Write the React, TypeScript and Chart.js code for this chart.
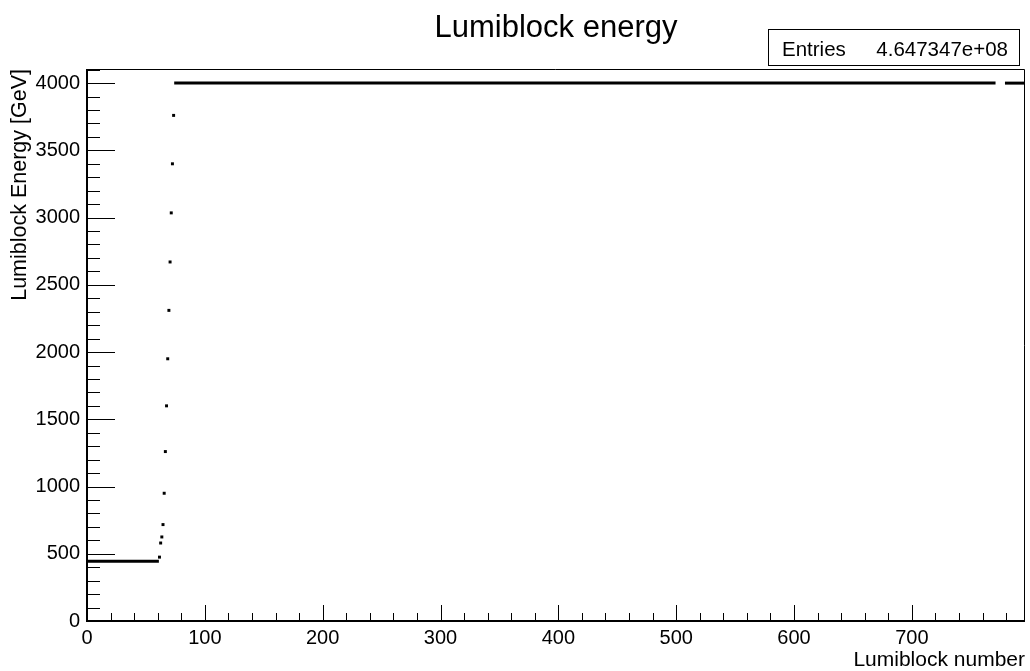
import React, { useEffect, useRef } from "react";
import { Chart, registerables } from "chart.js";

Chart.register(...registerables);

// ---- Text ----
const CHART_TITLE = "Lumiblock energy";
const X_TITLE = "Lumiblock number";
const Y_TITLE = "Lumiblock Energy [GeV]";
const STATS_LABEL = "Entries";
const STATS_VALUE = "4.647347e+08";

// ---- Axis ranges and tick spacing ----
const X_MIN = 0;
const X_MAX = 796;
const Y_MIN = 0;
const Y_MAX = 4105;
const X_MAJOR_STEP = 100;
const X_MINOR_STEP = 20;
const Y_MAJOR_STEP = 500;
const Y_MINOR_STEP = 100;

// ---- Data: flat energy plateaus (lumiblock ranges) ----
const plateauStart = [0, 74, 779];
const plateauEnd = [61, 771, 796];
const plateauEnergy = [445, 4000, 4000];

// ---- Data: individual lumiblocks during the energy ramp ----
const rampLumiblock = [61, 62, 63, 64, 65, 66, 67, 68, 69, 70, 71, 72, 73];
const rampEnergy = [475, 580, 625, 717, 950, 1260, 1600, 1950, 2310, 2670, 3035, 3400, 3760];

// markers sit at the centre of each lumiblock bin
const BIN_CENTER = 0.5;

const FONT = '"Liberation Sans", Arial, Helvetica, sans-serif';
const INK = "#000000";

// labelled (major) tick values between min and max
function majorTicks(min: number, max: number, step: number) {
  const out: { value: number }[] = [];
  const n = Math.floor((max - min) / step);
  for (let k = 0; k <= n; k++) out.push({ value: min + k * step });
  return out;
}

// Frame, inward ticks, title and statistics box in the ROOT style
const rootDecorations = {
  id: "rootDecorations",
  afterDraw(chart: any) {
    const { ctx, chartArea: a, scales } = chart;
    const xs = scales.x;
    const ys = scales.y;
    ctx.save();
    ctx.strokeStyle = INK;

    // frame
    ctx.lineWidth = 1;
    ctx.beginPath();
    ctx.moveTo(a.left, a.top + 0.5);
    ctx.lineTo(a.right - 0.5, a.top + 0.5);
    ctx.lineTo(a.right - 0.5, a.bottom);
    ctx.stroke();

    // axis lines
    ctx.lineWidth = 2;
    ctx.beginPath();
    ctx.moveTo(a.left, a.top);
    ctx.lineTo(a.left, a.bottom);
    ctx.lineTo(a.right, a.bottom);
    ctx.stroke();

    // y ticks (pointing into the frame)
    ctx.lineWidth = 1;
    ctx.beginPath();
    const nY = Math.floor((Y_MAX - Y_MIN) / Y_MINOR_STEP);
    for (let k = 0; k <= nY; k++) {
      const v = Y_MIN + k * Y_MINOR_STEP;
      const py = Math.round(ys.getPixelForValue(v)) + 0.5;
      const len = v % Y_MAJOR_STEP === 0 ? 28 : 13;
      ctx.moveTo(a.left, py);
      ctx.lineTo(a.left + len, py);
    }
    // x ticks
    const nX = Math.floor((X_MAX - X_MIN) / X_MINOR_STEP);
    for (let k = 0; k <= nX; k++) {
      const v = X_MIN + k * X_MINOR_STEP;
      const px = Math.round(xs.getPixelForValue(v)) + 0.5;
      const len = v % X_MAJOR_STEP === 0 ? 16 : 8;
      ctx.moveTo(px, a.bottom);
      ctx.lineTo(px, a.bottom - len);
    }
    ctx.stroke();

    // title, centred over the frame
    ctx.fillStyle = INK;
    ctx.font = `31px ${FONT}`;
    ctx.textAlign = "center";
    ctx.textBaseline = "alphabetic";
    ctx.fillText(CHART_TITLE, (a.left + a.right) / 2, 37);

    // statistics box
    const boxRight = a.right - 5;
    const boxLeft = boxRight - 252;
    const boxTop = 29;
    const boxBottom = a.top - 3;
    ctx.fillStyle = "#ffffff";
    ctx.fillRect(boxLeft, boxTop, boxRight - boxLeft, boxBottom - boxTop);
    ctx.lineWidth = 1;
    ctx.strokeRect(boxLeft + 0.5, boxTop + 0.5, boxRight - boxLeft - 1, boxBottom - boxTop - 1);
    ctx.fillStyle = INK;
    ctx.font = `20.5px ${FONT}`;
    ctx.textAlign = "left";
    ctx.fillText(STATS_LABEL, boxLeft + 14, boxBottom - 10);
    ctx.textAlign = "right";
    ctx.fillText(STATS_VALUE, boxRight - 12, boxBottom - 10);

    ctx.restore();
  },
};

export default function App() {
  const canvasRef = useRef<HTMLCanvasElement | null>(null);

  useEffect(() => {
    const canvas = canvasRef.current;
    if (!canvas) return;

    const plateauSets = plateauStart.map((start, i) => ({
      label: `plateau ${i + 1}`,
      data: [
        { x: start, y: plateauEnergy[i] },
        { x: plateauEnd[i], y: plateauEnergy[i] },
      ],
      showLine: true,
      borderColor: INK,
      borderWidth: 3,
      borderCapStyle: "butt" as const,
      pointRadius: 0,
      fill: false,
    }));

    const rampSet = {
      label: "ramp",
      data: rampLumiblock.map((lb, i) => ({ x: lb + BIN_CENTER, y: rampEnergy[i] })),
      showLine: false,
      pointStyle: "rect" as const,
      pointRadius: 2.1,
      pointBorderWidth: 0,
      pointBackgroundColor: INK,
      pointBorderColor: INK,
    };

    const chart = new Chart(canvas, {
      type: "scatter",
      data: { datasets: [...plateauSets, rampSet] as any },
      options: {
        responsive: false,
        devicePixelRatio: 1,
        animation: false,
        events: [],
        layout: { padding: { top: 69, right: 5, left: 0, bottom: 0 } },
        plugins: {
          legend: { display: false },
          tooltip: { enabled: false },
          title: { display: false },
        },
        scales: {
          x: {
            type: "linear",
            min: X_MIN,
            max: X_MAX,
            afterBuildTicks: (s: any) => {
              s.ticks = majorTicks(X_MIN, X_MAX, X_MAJOR_STEP);
            },
            afterFit: (s: any) => {
              s.height = 50;
            },
            grid: { display: false, drawTicks: false },
            border: { display: false },
            ticks: {
              autoSkip: false,
              maxRotation: 0,
              color: INK,
              padding: 5,
              font: { family: FONT, size: 20, lineHeight: 1.2 },
              callback: (v: any) => String(v),
            },
            title: {
              display: true,
              text: X_TITLE,
              align: "end",
              color: INK,
              padding: { top: 0, bottom: 0 },
              font: { family: FONT, size: 21, lineHeight: 1 },
            },
          },
          y: {
            type: "linear",
            min: Y_MIN,
            max: Y_MAX,
            afterBuildTicks: (s: any) => {
              s.ticks = majorTicks(Y_MIN, Y_MAX, Y_MAJOR_STEP);
            },
            afterFit: (s: any) => {
              s.width = 87;
            },
            grid: { display: false, drawTicks: false },
            border: { display: false },
            ticks: {
              autoSkip: false,
              color: INK,
              padding: 7,
              font: { family: FONT, size: 20 },
              callback: (v: any) => String(v),
            },
            title: {
              display: true,
              text: Y_TITLE,
              align: "end",
              color: INK,
              padding: { top: 9, bottom: 0 },
              font: { family: FONT, size: 21.5, lineHeight: 1 },
            },
          },
        },
      } as any,
      plugins: [rootDecorations],
    });

    return () => chart.destroy();
  }, []);

  return (
    <div style={{ position: "absolute", left: 0, top: 0, width: 1030, height: 671, background: "#fff" }}>
      <canvas ref={canvasRef} width={1030} height={671} style={{ display: "block" }} />
    </div>
  );
}
